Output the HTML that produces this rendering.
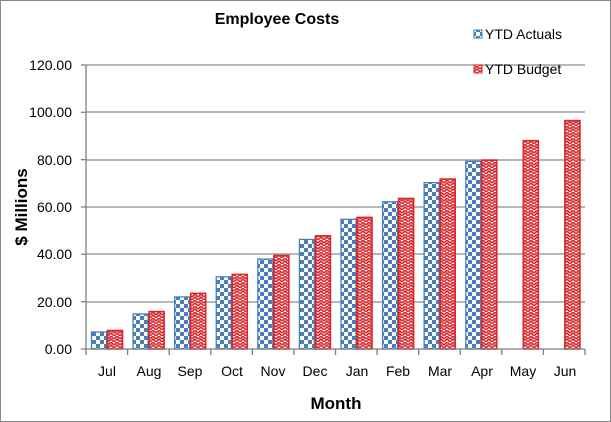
<!DOCTYPE html>
<html><head><meta charset="utf-8"><style>
html,body{margin:0;padding:0;background:#fff;}
svg{display:block;font-family:"Liberation Sans",Calibri,sans-serif;}
</style></head><body>
<svg id="s" width="611" height="422" xmlns="http://www.w3.org/2000/svg">
<defs>
<pattern id="chk" width="8" height="8" patternUnits="userSpaceOnUse">
<rect width="8" height="8" fill="#fff"/>
<rect width="4" height="4" fill="#4a7ebb"/><rect x="4" y="4" width="4" height="4" fill="#4a7ebb"/>
</pattern>
<pattern id="zz" width="6" height="6" patternUnits="userSpaceOnUse">
<rect width="6" height="6" fill="#fff"/>
<path d="M0,3 L3,0 L6,3 M0,6 L3,3 L6,6" stroke="#d9262a" stroke-width="1.6" fill="none"/>
</pattern>
</defs>
<rect x="0.5" y="0.5" width="610" height="421" fill="#fff" stroke="#888"/>
<text x="277" y="24" text-anchor="middle" font-size="16" font-weight="bold">Employee Costs</text>
<g stroke="#8c8c8c" stroke-width="1.3">
<line x1="86" y1="65" x2="585" y2="65"/><line x1="86" y1="112" x2="585" y2="112"/>
<line x1="86" y1="160" x2="585" y2="160"/><line x1="86" y1="207" x2="585" y2="207"/>
<line x1="86" y1="254" x2="585" y2="254"/><line x1="86" y1="302" x2="585" y2="302"/>
</g>
<g id="bars"></g>
<g stroke="#7f7f7f" stroke-width="1.3" id="ax">
<line x1="86" y1="65" x2="86" y2="349"/><line x1="86" y1="349" x2="585" y2="349"/>
</g>
<g font-size="14" text-anchor="end" fill="#000">
<text x="72" y="70">120.00</text><text x="72" y="117">100.00</text><text x="72" y="165">80.00</text>
<text x="72" y="212">60.00</text><text x="72" y="259">40.00</text><text x="72" y="307">20.00</text>
<text x="72" y="354">0.00</text>
</g>
<g font-size="14" text-anchor="middle">
<text x="107" y="376">Jul</text><text x="149" y="376">Aug</text><text x="190" y="376">Sep</text>
<text x="232" y="376">Oct</text><text x="273" y="376">Nov</text><text x="315" y="376">Dec</text>
<text x="357" y="376">Jan</text><text x="398" y="376">Feb</text><text x="440" y="376">Mar</text>
<text x="482" y="376">Apr</text><text x="523" y="376">May</text><text x="565" y="376">Jun</text>
</g>
<text x="336" y="409" text-anchor="middle" font-size="17" font-weight="bold">Month</text>
<text transform="translate(27,207) rotate(-90)" text-anchor="middle" font-size="17" font-weight="bold">$ Millions</text>
<rect x="474" y="30" width="8" height="8" fill="url(#chk)" stroke="#4a7ebb"/>
<text x="485" y="39" font-size="14">YTD Actuals</text>
<rect x="474" y="65" width="8" height="8" fill="url(#zz)" stroke="#d9262a"/>
<text x="485" y="74" font-size="14">YTD Budget</text>
</svg>
<script>
var A=[7.2,14.8,22,30.5,38,46.3,54.8,62.2,70.3,79.3];
var B=[7.8,15.8,23.5,31.5,39.5,47.8,55.6,63.6,71.8,79.8,88,96.5];
var g=document.getElementById('bars'),ax=document.getElementById('ax'),c=499/12,h='';
for(var i=0;i<12;i++){var s=86+i*c;
if(i<10){var y=349-A[i]*2.3667;h+='<rect x="'+(s+5.5)+'" y="'+y+'" width="15" height="'+(349-y)+'" fill="url(#chk)" stroke="#4a7ebb" stroke-width="1.3"/>';}
var y2=349-B[i]*2.3667;h+='<rect x="'+(s+21.5)+'" y="'+y2+'" width="15" height="'+(349-y2)+'" fill="url(#zz)" stroke="#d9262a" stroke-width="1.6"/>';}
g.innerHTML=h;
var t='';for(var i=0;i<=12;i++){var x=86+i*c;t+='<line x1="'+x+'" y1="349" x2="'+x+'" y2="355"/>';}
for(var j=0;j<=6;j++){var yy=65+j*47.33;t+='<line x1="81" y1="'+yy+'" x2="86" y2="'+yy+'"/>';}
ax.innerHTML+=t;
</script>
</body></html>
